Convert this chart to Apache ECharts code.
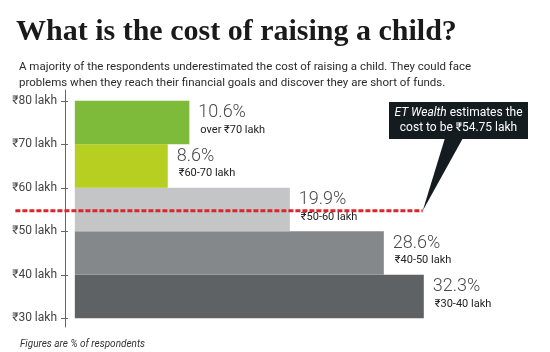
<!DOCTYPE html>
<html>
<head>
<meta charset="utf-8">
<script src="https://cdn.jsdelivr.net/npm/echarts@6/dist/echarts.min.js"></script>
<style>
  html, body { margin: 0; padding: 0; background: #fff; }
  #chart { width: 550px; height: 352px; }
</style>
</head>
<body>
<div id="chart"></div>
<script>
// cost bands (lakh) and share of respondents (%)
const bandLow = [30, 40, 50, 60, 70];
const bandHigh = [40, 50, 60, 70, 80];
const sharePct = [32.3, 28.6, 19.9, 8.6, 10.6];
const bandLabels = ["₹30-40 lakh", "₹40-50 lakh", "₹50-60 lakh", "₹60-70 lakh", "over ₹70 lakh"];
const yTicks = [30, 40, 50, 60, 70, 80];

// ET Wealth estimate and the x extent of its dashed line (in % units)
const estimate = 54.75;
const estimateLineFrom = -5.5;
const estimateLineTo = 32.2;

const barColors = ["#5f6265", "#84888b", "#c4c5c7", "#b6cf21", "#7fbb3a"];

const chart = echarts.init(document.getElementById("chart"));

const option = {
  animation: false,
  title: [
    {
      text: "What is the cost of raising a child?",
      left: 11,
      top: 11,
      textStyle: {
        fontFamily: "Liberation Serif",
        fontWeight: "bold",
        fontSize: 30,
        lineHeight: 32,
        color: "#1a1a1a",
      },
    },
    {
      text: "A majority of the respondents underestimated the cost of raising a child. They could face\nproblems when they reach their financial goals and discover they are short of funds.",
      left: 14,
      top: 54,
      textStyle: {
        fontFamily: "Roboto, sans-serif",
        fontWeight: "normal",
        fontSize: 11.5,
        lineHeight: 16,
        color: "#2b2b2b",
      },
    },
    {
      text: "Figures are % of respondents",
      left: 15,
      top: 332,
      textStyle: {
        fontFamily: "Roboto, sans-serif",
        fontStyle: "italic",
        fontWeight: "normal",
        fontSize: 10,
        lineHeight: 14,
        color: "#333",
      },
    },
  ],
  // x runs from -6 so the estimate line can start left of the axis; 0 sits at x=75px
  grid: { left: 10, right: 43, top: 90, bottom: 25 },
  xAxis: { type: "value", min: -6, max: 40, show: false },
  yAxis: [
    {
      type: "value",
      position: "left",
      min: 28,
      max: 82.5,
      offset: -55,
      splitLine: { show: false },
      axisLine: { show: true, onZero: false, lineStyle: { color: "#666", width: 1 } },
      axisTick: { show: true, length: 4, customValues: yTicks, lineStyle: { color: "#666" } },
      axisLabel: {
        customValues: yTicks,
        margin: 8,
        formatter: (v) => "₹" + v + " lakh",
        fontFamily: "Roboto, sans-serif",
        fontSize: 12,
        color: "#444",
      },
    },
    {
      type: "value",
      position: "left",
      min: 28,
      max: 82.5,
      offset: -55,
      splitLine: { show: false },
      axisLine: { show: false, onZero: false },
      axisLabel: { show: false },
      axisTick: { show: true, inside: true, length: 3, customValues: yTicks, lineStyle: { color: "#666" } },
    },
  ],
  series: [
    {
      type: "custom",
      data: bandLow.map((lo, i) => [lo, bandHigh[i], sharePct[i]]),
      renderItem: function (params, api) {
        const i = params.dataIndex;
        const lo = api.value(0);
        const hi = api.value(1);
        const pct = api.value(2);
        const p0 = api.coord([0, hi]);
        const p1 = api.coord([pct, lo]);
        return {
          type: "group",
          children: [
            {
              type: "rect",
              shape: { x: p0[0], y: p0[1], width: p1[0] - p0[0], height: p1[1] - p0[1] },
              style: { fill: barColors[i] },
            },
            {
              type: "text",
              x: p1[0] + 9,
              y: p0[1] + 12,
              style: {
                text: pct.toFixed(1) + "%",
                fontFamily: "Roboto, sans-serif",
                fontWeight: 300,
                fontSize: 18,
                fill: "#4a4a4a",
                verticalAlign: "middle",
              },
            },
            {
              type: "text",
              x: p1[0] + 11,
              y: p0[1] + 29,
              style: {
                text: bandLabels[i],
                fontFamily: "Roboto, sans-serif",
                fontSize: 11,
                fill: "#222",
                verticalAlign: "middle",
              },
            },
          ],
        };
      },
    },
    {
      type: "line",
      clip: false,
      symbol: "none",
      data: [[estimateLineFrom, estimate], [estimateLineTo, estimate]],
      lineStyle: { color: "#d9262c", width: 3, type: [5, 2] },
      z: 5,
    },
  ],
};

chart.setOption(option);

// callout pointing at the end of the estimate line
const tip = chart.convertToPixel({ gridIndex: 0 }, [estimateLineTo, estimate]);
chart.setOption({
  graphic: [
    {
      type: "polygon",
      shape: { points: [[445, 138], [463, 138], [tip[0], tip[1]]] },
      style: { fill: "#141c20" },
      z: 10,
    },
    {
      type: "rect",
      shape: { x: 389, y: 102, width: 139, height: 37 },
      style: { fill: "#141c20" },
      z: 10,
    },
    {
      type: "text",
      x: 458.5,
      y: 120.5,
      style: {
        text: "{i|ET Wealth} estimates the\ncost to be ₹54.75 lakh",
        align: "center",
        verticalAlign: "middle",
        fill: "#fff",
        fontFamily: "Roboto, sans-serif",
        fontSize: 12,
        lineHeight: 15,
        rich: {
          i: { fontStyle: "italic", fontFamily: "Roboto, sans-serif", fontSize: 12, fill: "#fff" },
        },
      },
      z: 11,
    },
  ],
});
</script>
</body>
</html>
